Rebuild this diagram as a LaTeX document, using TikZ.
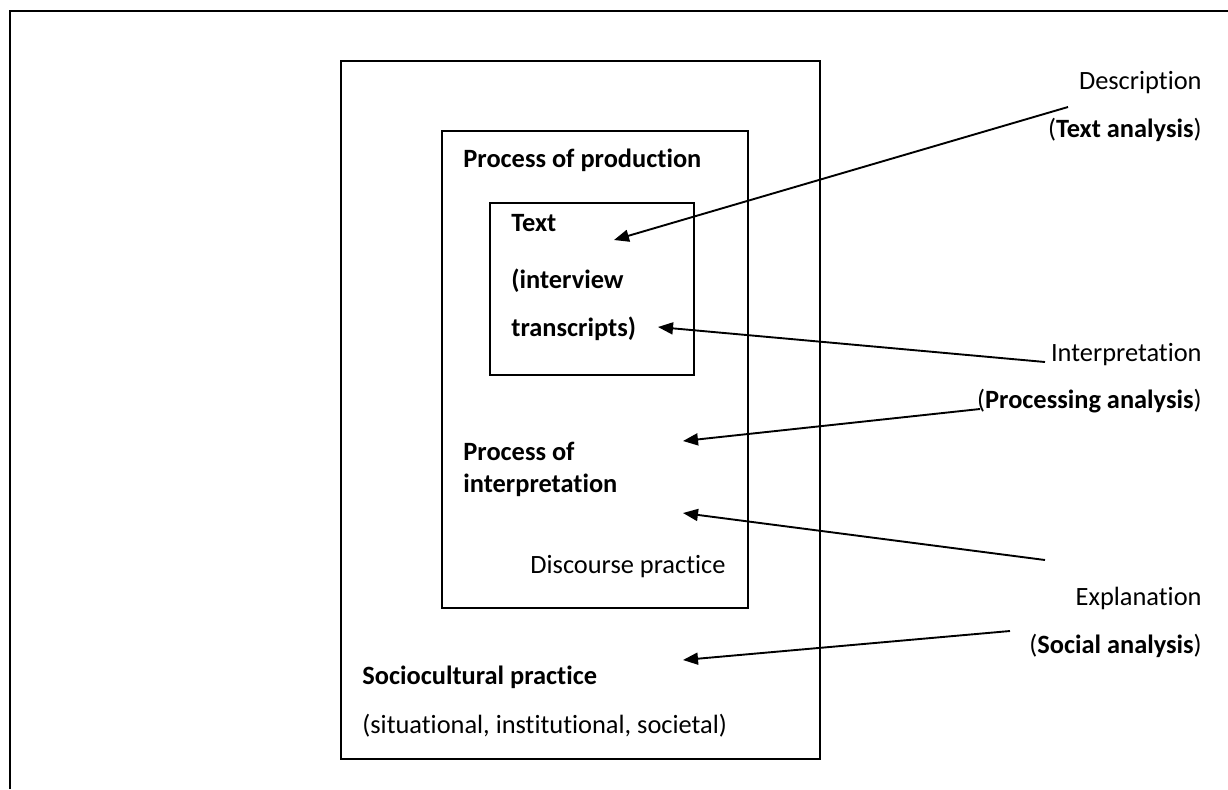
\documentclass[tikz,border=0pt]{standalone}
\usepackage{fontspec}
\setmainfont[Ligatures=NoCommon]{Carlito}
\usetikzlibrary{arrows.meta}

\begin{document}
\begin{tikzpicture}[
    x=0.5pt, y=-0.5pt,
    box/.style={draw, line width=1.1pt, inner sep=0pt, outer sep=0pt, anchor=north west},
    txt/.style={font=\fontsize{13.2pt}{15pt}\selectfont, inner sep=0pt},
    txtb/.style={txt, font=\fontsize{13.2pt}{15pt}\selectfont\bfseries},
    pointer/.style={line width=0.95pt, -{Triangle[length=7.5pt, width=6pt]}}
]
    \useasboundingbox (0,0) rectangle (1228,789);

    % page frame, only top and left edge shown
    \draw[line width=1.1pt] (10,789) -- (10,11) -- (1228,11);

    \node[box, minimum width=239.5pt, minimum height=349pt] (socio) at (341,61) {};
    \node[box, minimum width=153pt, minimum height=238.5pt] (discourse) at (442,131) {};
    \node[box, minimum width=102pt, minimum height=86pt] (textbox) at (490,203) {};

    \node[txtb, anchor=base west] (production) at (463,167) {Process of production};
    \foreach \line/\y [count=\i from 0] in {Text/231, {(interview}/288, {transcripts)}/336} {
        \node[txtb, anchor=base west] (text\i) at (511,\y) {\line};
    }
    \node[txtb, anchor=base west] (interp0) at (463,460) {Process of};
    \node[txtb, anchor=base west] (interp1) at (463,492) {interpretation};
    \node[txt, anchor=base west] (dpractice) at (530,573) {Discourse practice};
    \node[txtb, anchor=base west] (spractice) at (362,684) {Sociocultural practice};
    \node[txt, anchor=base west] (sdetail) at (362,733) {(situational, institutional, societal)};

    % dimension labels on the right
    \node[txt, anchor=base east] (descr) at (1202,89) {Description};
    \node[txt, anchor=base east] (descr2) at (1202,137) {(\textbf{Text analysis})};
    \node[txt, anchor=base east] (interpr) at (1202,361) {Interpretation};
    \node[txt, anchor=base east] (interpr2) at (1202,408) {(\textbf{Processing analysis})};
    \node[txt, anchor=base east] (expl) at (1202,605) {Explanation};
    \node[txt, anchor=base east] (expl2) at (1202,653) {(\textbf{Social analysis})};

    \coordinate (d0) at (1068,107);
    \coordinate (d1) at (614,240);
    \coordinate (i0) at (1045,362);
    \coordinate (i1) at (658,327);
    \coordinate (p0) at (980,409);
    \coordinate (p1) at (683,441);
    \coordinate (e0) at (1045,560);
    \coordinate (e1) at (683,513);
    \coordinate (s0) at (1010,631);
    \coordinate (s1) at (683,660);

    \draw[pointer] (d0) -- (d1);
    \draw[pointer] (i0) -- (i1);
    \draw[pointer] (p0) -- (p1);
    \draw[pointer] (e0) -- (e1);
    \draw[pointer] (s0) -- (s1);
\end{tikzpicture}
\end{document}
